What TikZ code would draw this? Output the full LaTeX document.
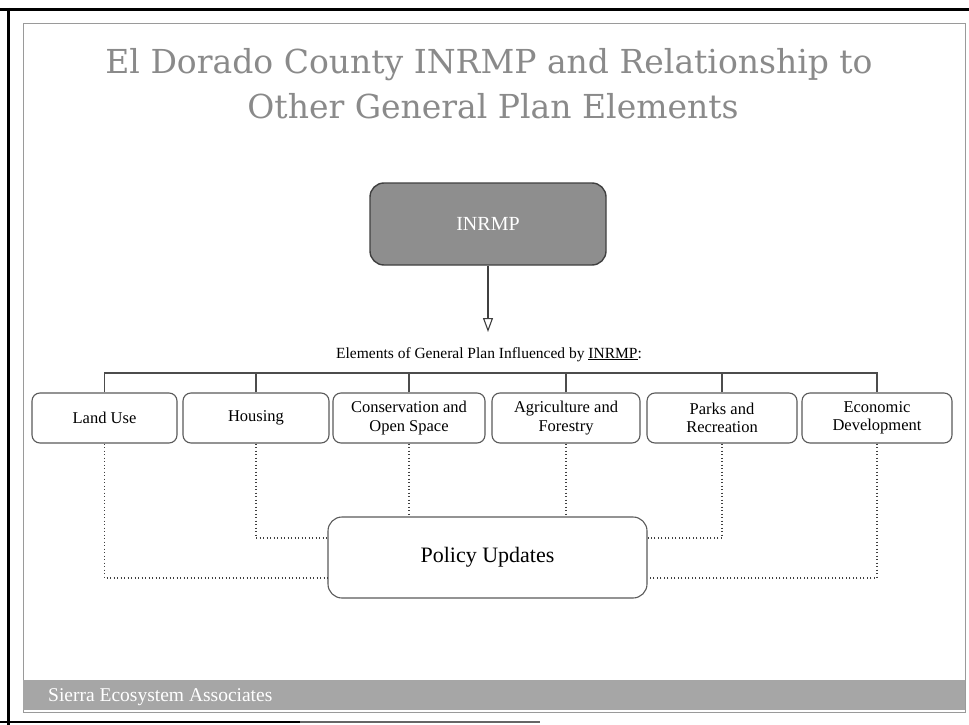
\documentclass[tikz,border=0pt]{standalone}
\usepackage{fontspec}
\setmainfont{Liberation Serif}
\newfontfamily\titlefont{DejaVu Serif}
\usetikzlibrary{arrows.meta}
\definecolor{titlegray}{HTML}{8A8A8A}
\definecolor{boxline}{HTML}{5A5A5A}
\definecolor{darkfill}{HTML}{8E8E8E}
\definecolor{bandgray}{HTML}{A6A6A6}
\definecolor{framegray}{HTML}{9A9A9A}
\tikzset{
  elembox/.style={draw=boxline, line width=1.1pt, rounded corners=8pt, minimum width=148pt, minimum height=50pt, align=center, font=\fontsize{16.5}{18.5}\selectfont, inner sep=2pt},
  mainbox/.style={draw=black!75, fill=darkfill, line width=1.4pt, rounded corners=14pt, minimum width=236pt, minimum height=82pt, font=\fontsize{20}{22}\selectfont, text=white},
  policybox/.style={draw=boxline, line width=1.1pt, rounded corners=14pt, minimum width=319pt, minimum height=81pt, font=\fontsize{22}{24}\selectfont},
  busline/.style={draw=black!70, line width=1.1pt},
  dotline/.style={draw=black!75, line width=1.3pt, dash pattern=on 1.3pt off 2.2pt},
  titletext/.style={text=titlegray, font=\titlefont\fontsize{33}{37}\selectfont, inner sep=0pt}
}
\begin{document}
\begin{tikzpicture}[x=1pt,y=-1pt]
\useasboundingbox (0,0) rectangle (969,725);
\fill[white] (0,0) rectangle (969,725);
% outer scan edges
\draw[black, line width=3pt] (0,10) -- (969,10);
\draw[black, line width=3pt] (8,8) -- (8,725);
\draw[black, line width=2.5pt] (0,722) -- (300,722);
\draw[black!60, line width=1.5pt] (300,722) -- (540,722);
% slide frame
\draw[framegray, line width=0.8pt] (23,23) rectangle (965,712);
% footer band
\fill[bandgray] (23,680) rectangle (965,710);
\node[anchor=base west, text=white, font=\fontsize{19.5}{21}\selectfont, inner sep=0pt] (footer) at (48,701) {Sierra Ecosystem Associates};
% title
\node[titletext, anchor=base] (t1) at (489,74) {El Dorado County INRMP and Relationship to};
\node[titletext, anchor=base] (t2) at (493,118) {Other General Plan Elements};
% INRMP box
\node[mainbox] (inrmp) at (488,224) {INRMP};
\coordinate (tip) at (488,332);
\draw[black!75, line width=1.1pt, -{Triangle[open, width=10pt, length=14pt, line width=1.1pt]}] (inrmp.south) -- (tip);
\node[anchor=base, font=\fontsize{15.5}{17}\selectfont, inner sep=0pt] (elabel) at (489,358) {Elements of General Plan Influenced by \underline{INRMP}:};
% element boxes
\node[elembox, minimum width=145pt] (lu) at (104.5,418) {Land Use};
\node[elembox, minimum width=146pt] (hs) at (256,418) {Housing};
\node[elembox, minimum width=152pt] (co) at (409,418) {Conservation and\\Open Space};
\node[elembox, minimum width=148pt] (ag) at (566,418) {Agriculture and\\Forestry};
\node[elembox, minimum width=150pt] (pr) at (722,418) {Parks and\\Recreation};
\node[elembox, minimum width=150pt] (ed) at (877,418) {Economic\\Development};
% bus
\coordinate (bus) at (0,373);
\draw[busline] (lu.north) -- (lu.north |- bus) -- (ed.north |- bus) -- (ed.north);
\draw[busline] (hs.north) -- (hs.north |- bus);
\draw[busline] (co.north) -- (co.north |- bus);
\draw[busline] (ag.north) -- (ag.north |- bus);
\draw[busline] (pr.north) -- (pr.north |- bus);
% policy box
\node[policybox] (pu) at (487.5,557.5) {Policy Updates};
\coordinate (ylow) at (0,578);
\coordinate (yhigh) at (0,538);
\draw[dotline] (lu.south) |- (pu.west |- ylow);
\draw[dotline] (hs.south) |- (pu.west |- yhigh);
\draw[dotline] (co.south) -- (co.south |- pu.north);
\draw[dotline] (ag.south) -- (ag.south |- pu.north);
\draw[dotline] (pr.south) |- (pu.east |- yhigh);
\draw[dotline] (ed.south) |- (pu.east |- ylow);
\end{tikzpicture}
\end{document}
